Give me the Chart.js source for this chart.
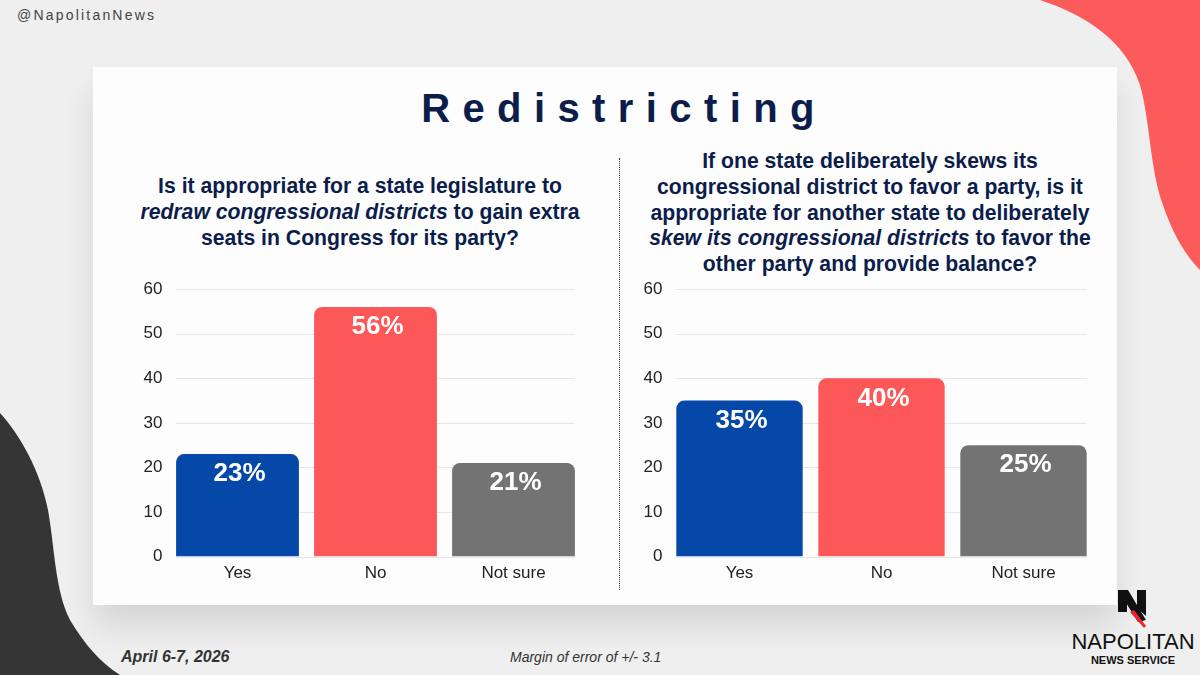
<!DOCTYPE html>
<html lang="en">
<head>
    <meta charset="UTF-8">
    <title>Redistricting</title>
    <script src="https://cdn.jsdelivr.net/npm/chart.js"></script>
    <style>
        body {
            margin: 0;
            width: 1200px;
            height: 675px;
            overflow: hidden;
            background: #efefef;
            font-family: "Liberation Sans", Arial, sans-serif;
            position: relative;
        }
        .blob { position: absolute; left: 0; top: 0; }
        .handle {
            position: absolute; left: 17px; top: 7px;
            font-size: 14px; letter-spacing: 2.2px; color: #444;
        }
        .card {
            position: absolute; left: 93px; top: 67px;
            width: 1024px; height: 538px;
            background: #fdfdfd;
            box-shadow: 0 22px 28px rgba(0,0,0,0.10);
        }
        h1 {
            position: absolute; left: 106px; top: 86px; width: 1036px;
            margin: 0; text-align: center;
            font-size: 40px; font-weight: bold; letter-spacing: 12.4px;
            color: #0c1d4c;
        }
        .question {
            position: absolute; margin: 0; text-align: center;
            font-size: 21.2px; font-weight: bold; line-height: 25.8px;
            color: #0c1d4c;
        }
        .divider {
            position: absolute; left: 619px; top: 158px; height: 432px;
            border-left: 1px dotted #333;
        }
        .chart-box { position: absolute; }
        .footer-date {
            position: absolute; left: 121px; top: 648px;
            font-size: 16px; font-weight: bold; font-style: italic; color: #333;
        }
        .footer-moe {
            position: absolute; left: 510px; top: 649px;
            font-size: 14px; font-style: italic; color: #333;
        }
        .brand {
            position: absolute; left: 1063px; top: 630px; width: 140px;
            text-align: center; color: #111;
        }
        .brand .big { font-size: 22px; line-height: 24px; }
        .brand .small { font-size: 11px; font-weight: bold; line-height: 13px; }
    </style>
</head>
<body>
    <svg class="blob" width="1200" height="675">
        <path d="M1040,0 C1085,15 1125,40 1140,85 C1150,120 1150,170 1163,205 C1172,232 1185,255 1200,270 L1200,0 Z" fill="#fc5b5b"/>
        <path d="M0,413 C20,435 40,470 48,510 C55,550 55,590 70,620 C85,645 100,662 120,675 L0,675 Z" fill="#353535"/>
        <g transform="translate(1118,590)">
            <polygon points="0,0 9,0 9,22 0,22" fill="#111"/>
            <polygon points="0,0 10,0 28,30 20,32" fill="#111"/>
            <polygon points="19,0 28,0 28,26 19,18" fill="#111"/>
            <polygon points="12,22 16,20 28,36 26,38" fill="#e8262b"/>
        </g>
    </svg>
    <div class="handle">@NapolitanNews</div>
    <div class="card"></div>
    <h1>Redistricting</h1>

    <p class="question" style="left:110px; top:173px; width:500px;">
        Is it appropriate for a state legislature to<br>
        <i>redraw congressional districts</i> to gain extra<br>
        seats in Congress for its party?
    </p>
    <p class="question" style="left:620px; top:148px; width:500px;">
        If one state deliberately skews its<br>
        congressional district to favor a party, is it<br>
        appropriate for another state to deliberately<br>
        <i>skew its congressional districts</i> to favor the<br>
        other party and provide balance?
    </p>
    <div class="divider"></div>

    <div class="chart-box" style="left:110px; top:273px; width:478px; height:318px;">
        <canvas id="legislatureChart"></canvas>
    </div>
    <div class="chart-box" style="left:610px; top:273px; width:490px; height:318px;">
        <canvas id="balanceChart"></canvas>
    </div>

    <div class="footer-date">April 6-7, 2026</div>
    <div class="footer-moe">Margin of error of +/- 3.1</div>
    <div class="brand">
        <div class="big">NAPOLITAN</div>
        <div class="small">NEWS SERVICE</div>
    </div>

    <script>
        const categories = ['Yes', 'No', 'Not sure'];
        const legislatureValues = [23, 56, 21];
        const balanceValues = [35, 40, 25];
        const barColors = ['#0548a8', '#fc5858', '#737373'];
        const yMax = 60;
        const yStep = 10;

        // gridlines only span from the first bar to the last one
        const shortGrid = {
            id: 'shortGrid',
            beforeDatasetsDraw(chart) {
                const ctx = chart.ctx;
                const bars = chart.getDatasetMeta(0).data;
                const x0 = bars[0].x - bars[0].width / 2;
                const x1 = bars[bars.length - 1].x + bars[bars.length - 1].width / 2;
                const y = chart.scales.y;
                ctx.save();
                ctx.strokeStyle = '#e6e6e6';
                ctx.lineWidth = 1;
                y.ticks.forEach(t => {
                    const py = Math.round(y.getPixelForValue(t.value)) + 0.5;
                    ctx.beginPath();
                    ctx.moveTo(x0, py);
                    ctx.lineTo(x1, py);
                    ctx.stroke();
                });
                ctx.restore();
            }
        };

        // white percent labels just inside the top of each bar
        const valueLabels = {
            id: 'valueLabels',
            afterDatasetsDraw(chart) {
                const ctx = chart.ctx;
                const values = chart.data.datasets[0].data;
                ctx.save();
                ctx.font = 'bold 26px "Liberation Sans", Arial, sans-serif';
                ctx.fillStyle = '#ffffff';
                ctx.textAlign = 'center';
                ctx.textBaseline = 'middle';
                chart.getDatasetMeta(0).data.forEach((bar, i) => {
                    ctx.fillText(values[i] + '%', bar.x + 2, bar.y + 20);
                });
                ctx.restore();
            }
        };

        function drawChart(id, values) {
            new Chart(document.getElementById(id), {
                type: 'bar',
                data: {
                    labels: categories,
                    datasets: [{
                        data: values,
                        backgroundColor: barColors,
                        borderRadius: 8,
                        barPercentage: 0.89,
                        categoryPercentage: 1
                    }]
                },
                options: {
                    responsive: true,
                    maintainAspectRatio: false,
                    animation: false,
                    layout: { padding: { top: 6, right: 5.5, bottom: 0 } },
                    plugins: { legend: { display: false }, tooltip: { enabled: false } },
                    scales: {
                        x: {
                            grid: { display: false, drawTicks: false },
                            border: { display: false },
                            ticks: { color: '#222', padding: 7, font: { size: 17, family: '"Liberation Sans", Arial' } }
                        },
                        y: {
                            min: 0,
                            max: yMax,
                            afterFit: (scale) => { scale.width = 58.5; },
                            grid: { display: false, drawTicks: false },
                            border: { display: false },
                            ticks: { stepSize: yStep, color: '#222', padding: 6, font: { size: 17, family: '"Liberation Sans", Arial' } }
                        }
                    }
                },
                plugins: [shortGrid, valueLabels]
            });
        }

        drawChart('legislatureChart', legislatureValues);
        drawChart('balanceChart', balanceValues);
    </script>
</body>
</html>
